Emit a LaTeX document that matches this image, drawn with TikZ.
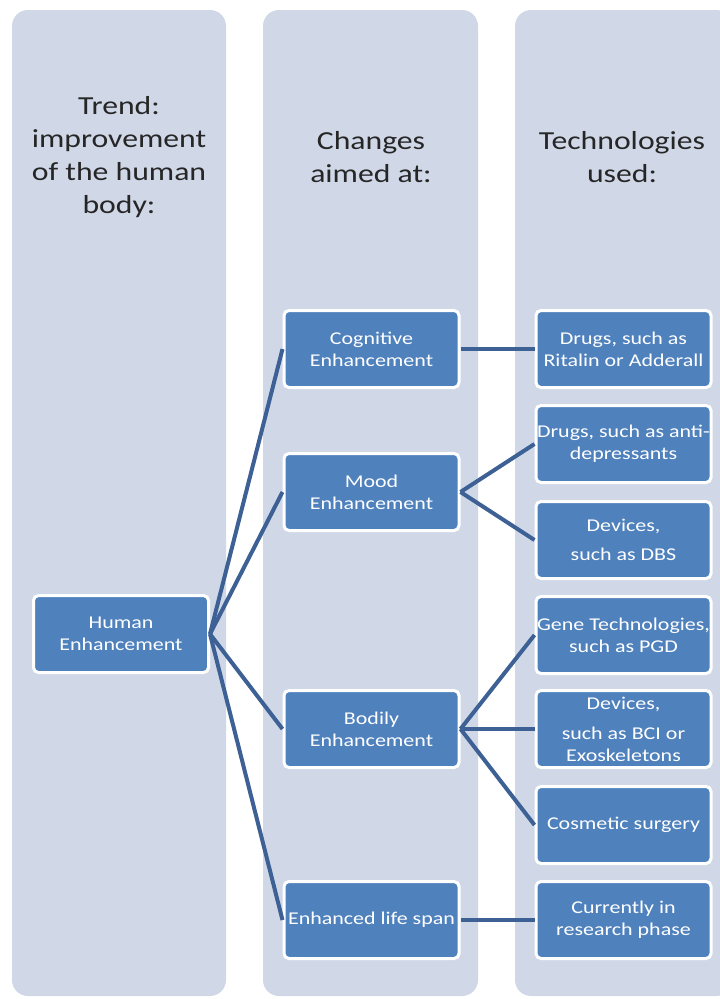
\documentclass[tikz,border=0pt]{standalone}
\usepackage{fontspec}
\newfontfamily\calib[FakeStretch=1.22]{Carlito}
\definecolor{colbg}{HTML}{D0D8E8}
\definecolor{boxblue}{HTML}{4F81BD}
\definecolor{connblue}{HTML}{3D6194}
\definecolor{titlegray}{HTML}{262626}
\begin{document}
\begin{tikzpicture}[x=1pt,y=-1pt,
  column/.style={fill=colbg, rounded corners=16pt},
  box/.style={draw=white, line width=3pt, fill=boxblue, rounded corners=5pt,
    minimum width=175pt, minimum height=77pt, inner sep=0pt, text=white,
    align=center, font=\calib\fontsize{18}{22}\selectfont},
  coltitle/.style={align=center, text=titlegray, inner sep=0pt,
    font=\calib\fontsize{26}{33}\selectfont},
  conn/.style={draw=connblue, line width=4pt}]
\useasboundingbox (0,0) rectangle (720,999);
\clip (0,0) rectangle (720,999);
\fill[white] (0,0) rectangle (720,999);
% columns
\fill[column] (12,10) rectangle (226,996);
\fill[column] (263,10) rectangle (478,996);
\fill[column] (515,10) rectangle (732,996);
% titles
\node[coltitle] (t1) at (119,157) {Trend:\\improvement\\of the human\\body:};
\node[coltitle] (t2) at (371,157) {Changes\\aimed at:};
\node[coltitle] (t3) at (622,157) {Technologies\\used:};
% level 1
\node[box] (he) at (121,634) {Human\\Enhancement};
% level 2
\node[box] (cog) at (371.5,349) {Cognitive\\Enhancement};
\node[box] (mood) at (371.5,492) {Mood\\Enhancement};
\node[box] (body) at (371.5,729) {Bodily\\Enhancement};
\node[box] (life) at (371.5,920) {Enhanced life span};
% level 3
\node[box] (rit) at (623.5,349) {Drugs, such as\\Ritalin or Adderall};
\node[box] (anti) at (623.5,444) {Drugs, such as anti-\\depressants};
\node[box] (dbs) at (623.5,540) {Devices,\\[7pt]such as DBS};
\node[box] (gene) at (623.5,635) {Gene Technologies,\\such as PGD};
\node[box] (bci) at (623.5,729) {Devices,\\[8pt]such as BCI or\\Exoskeletons};
\node[box] (cos) at (623.5,825) {Cosmetic surgery};
\node[box] (res) at (623.5,920) {Currently in\\research phase};
% connectors
\draw[conn] (he.east) -- (cog.west);
\draw[conn] (he.east) -- (mood.west);
\draw[conn] (he.east) -- (body.west);
\draw[conn] (he.east) -- (life.west);
\draw[conn] (cog.east) -- (rit.west);
\draw[conn] (mood.east) -- (anti.west);
\draw[conn] (mood.east) -- (dbs.west);
\draw[conn] (body.east) -- (gene.west);
\draw[conn] (body.east) -- (bci.west);
\draw[conn] (body.east) -- (cos.west);
\draw[conn] (life.east) -- (res.west);
\end{tikzpicture}
\end{document}
